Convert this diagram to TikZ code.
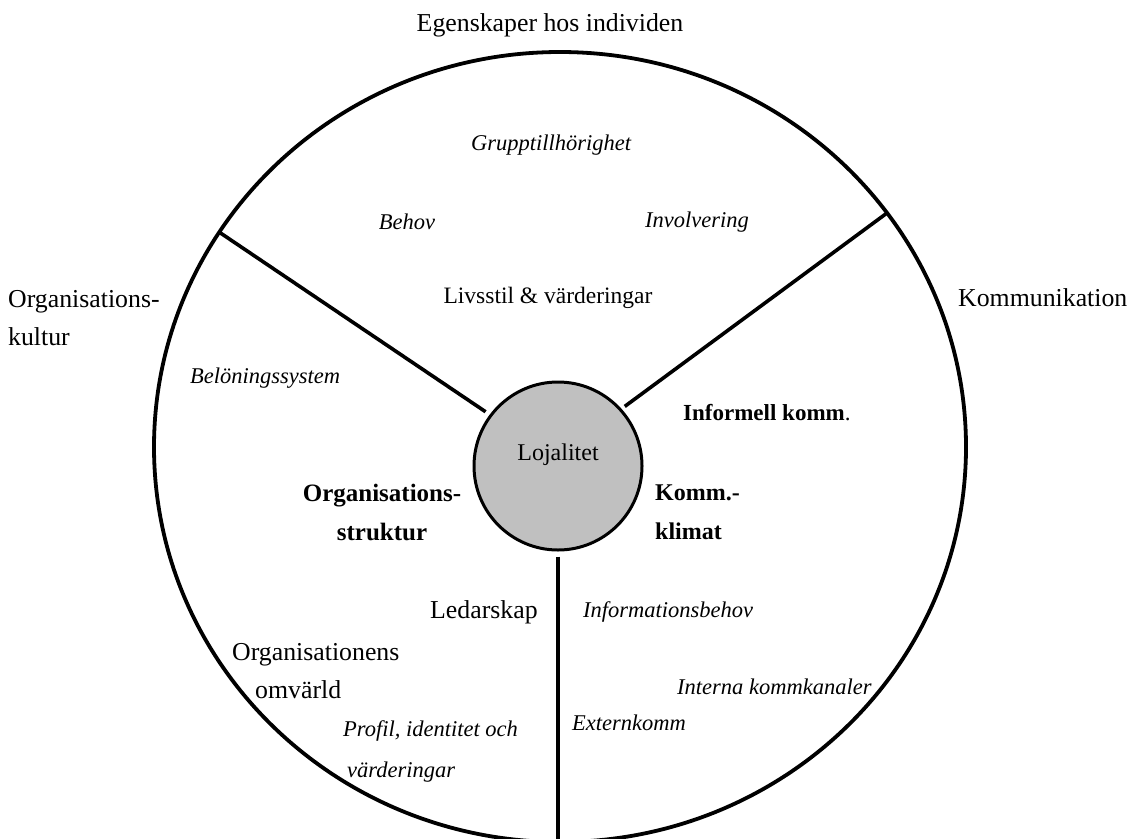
\documentclass[tikz,border=0pt]{standalone}
\usepackage{fontspec}
\setmainfont{Liberation Serif}
\definecolor{lojgray}{RGB}{192,192,192}
\begin{document}
\begin{tikzpicture}[x=1pt,y=-1pt,
  lbl/.style={inner sep=0pt, font=\fontsize{25.8}{38}\selectfont},
  ital/.style={inner sep=0pt, font=\fontsize{22.5}{41}\selectfont\itshape},
  bld/.style={inner sep=0pt, font=\fontsize{24}{39}\selectfont\bfseries},
  spoke/.style={line width=3.6pt},
  center/.style={circle, draw, line width=3pt, fill=lojgray, minimum size=168pt, inner sep=0pt}
]
\useasboundingbox (0,0) rectangle (1131,838);
\draw[line width=3.8pt] (560,447) ellipse [x radius=406, y radius=395];

\node[center] (loj) at (558,466) {};
\coordinate (ul) at (219,232);
\coordinate (ur) at (887,213);
\coordinate (bt) at (558,850);
\draw[spoke, shorten <=5pt] (loj.143) -- (ul);
\draw[spoke, shorten <=4pt] (loj.42) -- (ur);
\draw[spoke, shorten <=5pt] (loj.south) -- (bt);

\node[inner sep=0pt, font=\fontsize{24}{30}\selectfont] (lojt) at (558,455) {Lojalitet};
\node[lbl] (egen) at (550,25) {Egenskaper hos individen};
\node[ital] (grupp) at (551,145) {Grupptillhörighet};
\node[ital] (behov) at (407,222) {Behov};
\node[ital] (invol) at (697,222) {Involvering};
\node[lbl, font=\fontsize{23.5}{38}\selectfont] (livs) at (548,298) {Livsstil \& värderingar};
\node[lbl, anchor=west, align=left] (orgkult) at (8,318) {Organisations-\\kultur};
\node[lbl, anchor=west] (komm) at (958,298) {Kommunikation};
\node[ital, anchor=west] (belon) at (190,378) {Belöningssystem};
\node[bld, anchor=west, font=\fontsize{23}{39}\selectfont\bfseries] (infkomm) at (683,413) {Informell komm\textmd{.}};
\node[bld, align=center, font=\fontsize{25}{39}\selectfont\bfseries] (orgstr) at (382,512) {Organisations-\\struktur};
\node[bld, anchor=west, align=left] (kklim) at (655,512) {Komm.-\\klimat};
\node[lbl, anchor=west] (ledar) at (430,612) {Ledarskap};
\node[lbl, anchor=west, align=left] (orgomv) at (232,671) {Organisationens\\\hspace*{23pt}omvärld};
\node[ital, anchor=west, align=left] (profil) at (343,751) {Profil, identitet och\\\hspace*{4pt}värderingar};
\node[ital, anchor=west] (infob) at (583,612) {Informationsbehov};
\node[ital, anchor=west] (intern) at (677,687) {Interna kommkanaler};
\node[ital, anchor=west] (extern) at (572,723) {Externkomm};
\end{tikzpicture}
\end{document}
